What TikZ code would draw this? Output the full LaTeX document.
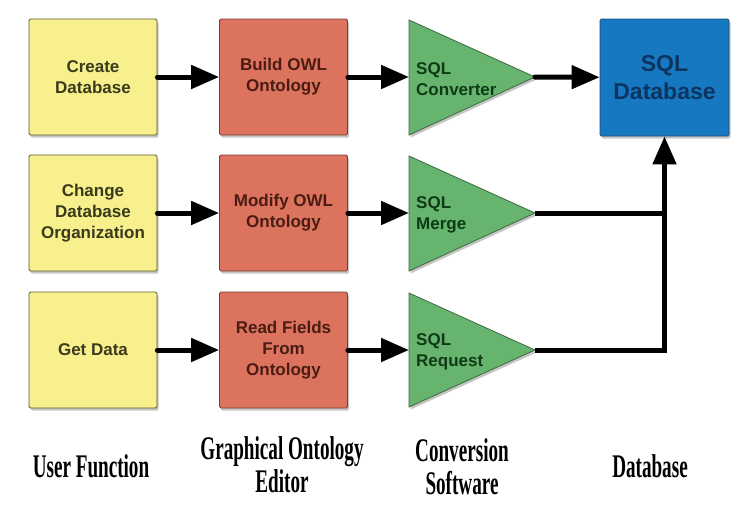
\documentclass[tikz,border=0pt]{standalone}
\usepackage{fontspec}
\setmainfont{Liberation Sans}
\newfontfamily\headfont[FakeStretch=0.58]{Liberation Serif}
\usetikzlibrary{arrows.meta,shadows}
\definecolor{userfill}{HTML}{F7F08C}
\definecolor{userline}{HTML}{5C5A30}
\definecolor{userink}{HTML}{3A3A1C}
\definecolor{editfill}{HTML}{DB735F}
\definecolor{editline}{HTML}{7A4032}
\definecolor{editink}{HTML}{4A1C12}
\definecolor{convfill}{HTML}{66B46E}
\definecolor{convline}{HTML}{3E6A42}
\definecolor{convink}{HTML}{0F3A16}
\definecolor{dbfill}{HTML}{1778C2}
\definecolor{dbline}{HTML}{1A4D7A}
\definecolor{dbink}{HTML}{0C3460}
\tikzset{>={Triangle[length=28pt,width=23pt]}}
\tikzset{
    boxshade/.style={drop shadow={shadow xshift=1.5pt,shadow yshift=-2.5pt,opacity=0.45}},
    userbox/.style={draw=userline,fill=userfill,line width=0.8pt,boxshade,rounded corners=1.5pt,
        minimum width=128pt,minimum height=116pt,align=center,text=userink,
        font=\bfseries\fontsize{17}{21}\selectfont},
    editbox/.style={userbox,draw=editline,fill=editfill,text=editink},
    dbbox/.style={userbox,draw=dbline,fill=dbfill,text=dbink,
        minimum width=129pt,minimum height=117pt,
        font=\bfseries\fontsize{23}{28}\selectfont},
    convtri/.style={draw=convline,fill=convfill,line width=0.8pt,boxshade},
    convtext/.style={anchor=west,inner sep=0pt,align=left,text=convink,
        font=\bfseries\fontsize{17}{21}\selectfont},
    flow/.style={line width=5pt,line cap=round,->},
    mergeline/.style={line width=5pt},
    colhead/.style={align=center,font=\headfont\bfseries\fontsize{33}{33}\selectfont}
}
\begin{document}
\begin{tikzpicture}[x=1pt,y=-1pt]
    \fill[white] (0,0) rectangle (746,504);
    \useasboundingbox (0,0) rectangle (746,504);
    % user functions
    \node[userbox] (create) at (93,77) {Create\\Database};
    \node[userbox] (change) at (93,213) {Change\\Database\\Organization};
    \node[userbox] (get) at (93,350) {Get Data};
    % ontology editor
    \node[editbox] (build) at (283.5,77) {Build OWL\\Ontology};
    \node[editbox] (modify) at (283.5,213) {Modify OWL\\Ontology};
    \node[editbox] (read) at (283.5,350) {Read Fields\\From\\Ontology};
    % conversion software
    \filldraw[convtri] (409,20) -- (535,77) -- (409,135) -- cycle;
    \filldraw[convtri] (409,156) -- (535,213) -- (409,271) -- cycle;
    \filldraw[convtri] (409,293) -- (535,350) -- (409,407) -- cycle;
    \coordinate (convin) at (409,77);
    \coordinate (convout) at (535,77);
    \coordinate (mergein) at (409,213);
    \coordinate (mergeout) at (535,213);
    \coordinate (reqin) at (409,350);
    \coordinate (reqout) at (535,350);
    \node[convtext] (convlbl) at (416,79) {SQL\\Converter};
    \node[convtext] (mergelbl) at (416,215) {SQL\\Merge};
    \node[convtext] (reqlbl) at (416,352) {SQL\\Request};
    % database
    \node[dbbox] (db) at (664.5,77.5) {SQL\\Database};
    % connectors
    \draw[flow] (create) -- (build);
    \draw[flow] (change) -- (modify);
    \draw[flow] (get) -- (read);
    \draw[flow] (build) -- (convin);
    \draw[flow] (modify) -- (mergein);
    \draw[flow] (read) -- (reqin);
    \draw[flow] (convout) -- (db);
    \draw[mergeline] (mergeout) -- (mergeout -| db.south);
    \draw[flow,line cap=butt] (reqout) -| (db.south);
    % column headings
    \node[colhead] (userhead) at (91,466) {User Function};
    \node[colhead] (edithead) at (282,465) {Graphical Ontology\\Editor};
    \node[colhead] (convhead) at (462,467) {Conversion\\Software};
    \node[colhead] (dbhead) at (650,466) {Database};
\end{tikzpicture}
\end{document}
